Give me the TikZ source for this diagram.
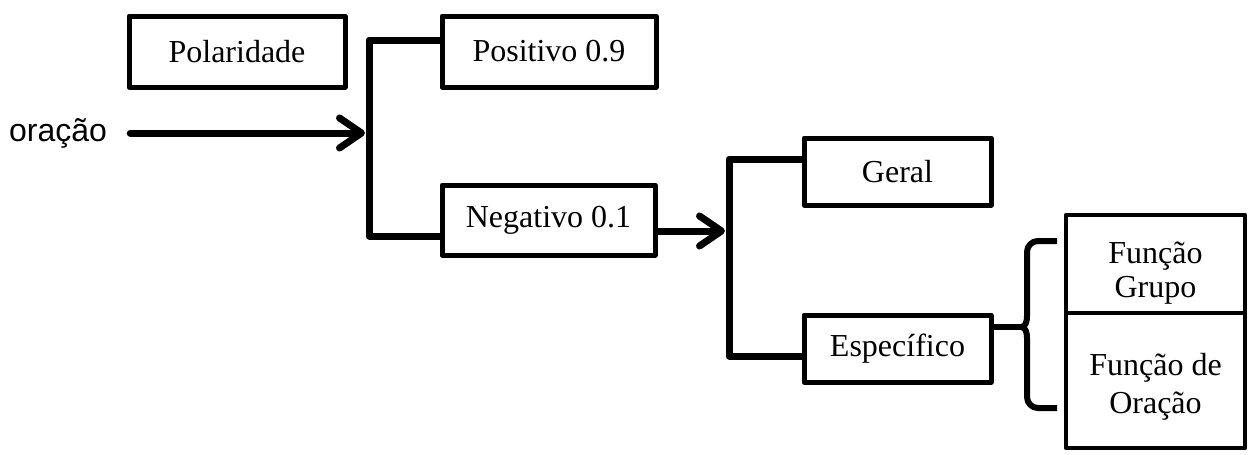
\documentclass[tikz,border=0pt]{standalone}
\usepackage{fontspec}
\setmainfont{Liberation Serif}
\newfontfamily\labelsans{Liberation Sans}
\usetikzlibrary{arrows.meta}

\tikzset{
  box/.style={draw, line width=5pt, line join=round, inner sep=0pt,
    align=center, font=\fontsize{32}{34}\selectfont},
  tallbox/.style={box, line width=4.5pt},
  boxtext/.style={inner sep=0pt, align=center},
  link/.style={line width=7pt, line join=round, line cap=butt},
  feed/.style={line width=7pt, line cap=round,
    -{Straight Barb[length=22pt, width=30pt, round]}},
  curly/.style={line width=6pt, line join=round, line cap=butt},
}

\begin{document}
\begin{tikzpicture}[x=1pt, y=-1pt]
  \useasboundingbox (0,0) rectangle (1248,455);

  % input label
  \node[font=\labelsans\fontsize{32}{34}\selectfont, anchor=west, inner sep=0pt] (in) at (9,133) {oração};

  % first level
  \node[box, minimum width=216pt, minimum height=71pt] (pol) at (237,51.5) {Polaridade};
  \node[box, minimum width=214pt, minimum height=71pt] (pos) at (549,51.5) {Positivo 0.9};
  \node[box, minimum width=213pt, minimum height=70pt] (neg) at (548.5,220) {Negativo 0.1};

  % second level
  \node[box, minimum width=187pt, minimum height=67pt] (ger) at (897.5,171.5) {Geral};
  \node[box, minimum width=187pt, minimum height=67pt] (esp) at (897.5,348.5) {Específico};

  % third level: two stacked boxes, their text set a little low
  \node[tallbox, minimum width=179pt, minimum height=98pt] (fg) at (1155.5,264) {};
  \node[tallbox, minimum width=179pt, minimum height=135pt] (fo) at (1155.5,380.5) {};
  \node[boxtext, font=\fontsize{32}{34}\selectfont] (fgtext) at ([yshift=-9pt]fg.center) {Função\\Grupo};
  \node[boxtext, font=\fontsize{32}{38}\selectfont] (fotext) at ([yshift=-6pt]fo.center) {Função de\\Oração};

  % junction points of the brackets
  \coordinate (j1) at (369,133);
  \coordinate (j2) at (729,231);

  % first split
  \draw[link] ([yshift=11.5pt]pos.west) -| (j1) |- ([yshift=-16pt]neg.west);
  \draw[feed, shorten <=23pt, shorten >=4pt] (in.east) -- (j1);

  % second split
  \draw[link] ([yshift=12.5pt]ger.west) -| (j2) |- ([yshift=-7.5pt]esp.west);
  \draw[feed, shorten >=4pt] ([yshift=-11pt]neg.east) -- (j2);

  % curly brace towards the function boxes
  \coordinate (bt) at (1057,241);
  \coordinate (bb) at (1057,408);
  \coordinate (bm) at (1021,327);
  \draw[curly] (bt) -- (1038,241) to[out=180,in=90] (1027,252)
    -- (1027,316) to[out=-90,in=0] (bm) to[out=0,in=90] (1027,338)
    -- (1027,397) to[out=-90,in=180] (1038,408) -- (bb);
  \draw[curly] ([yshift=21.5pt]esp.east) to[out=0,in=180] (bm);
\end{tikzpicture}
\end{document}
